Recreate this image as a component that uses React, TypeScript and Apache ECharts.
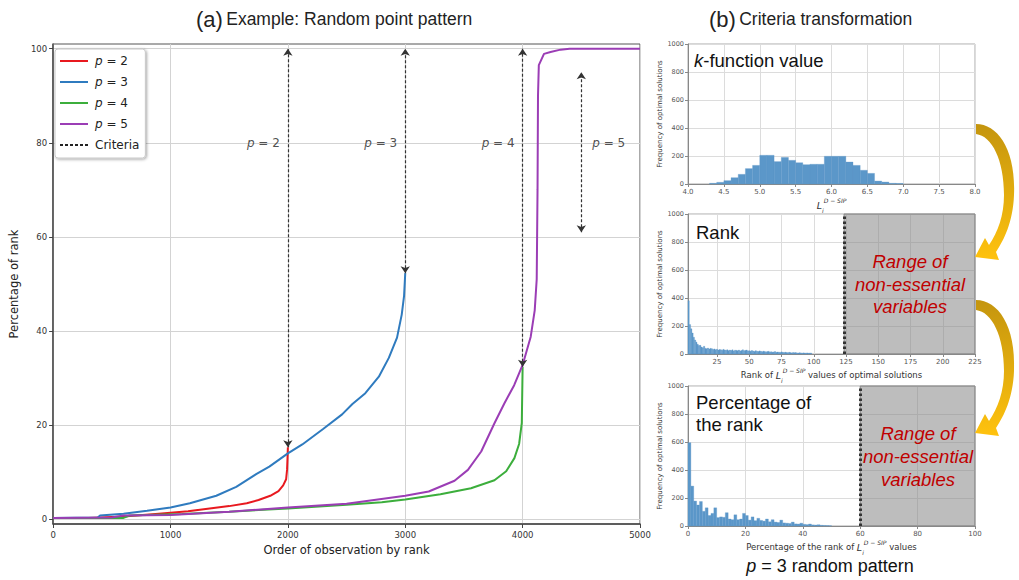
import React, { useEffect, useRef } from 'react';
import * as echarts from 'echarts';

// ---------- Panel (a) data: [order of observation, percentage of rank] ----------
const p2Points = [[0, 0.3], [300, 0.3], [600, 0.6], [900, 1.2], [1150, 1.7], [1300, 2.2], [1500, 2.8], [1650, 3.4], [1750, 4.1], [1850, 5.0], [1920, 6.0], [1960, 7.2], [1985, 8.5], [1993, 10.5], [1997, 13], [2000, 15.3]];
const p3Points = [[0, 0.3], [380, 0.4], [400, 0.8], [600, 1.2], [800, 1.8], [1000, 2.5], [1165, 3.4], [1390, 5.0], [1560, 6.9], [1730, 9.6], [1842, 11.2], [2000, 14.0], [2123, 15.9], [2300, 19.2], [2462, 22.3], [2550, 24.5], [2660, 26.8], [2775, 30.3], [2860, 34.3], [2930, 38.6], [2970, 43.5], [2990, 47.5], [3000, 52.3]];
const p4Points = [[0, 0.3], [600, 0.3], [650, 0.8], [1100, 1.1], [1500, 1.6], [2000, 2.3], [2500, 3.1], [2800, 3.6], [3000, 4.2], [3300, 5.3], [3560, 6.6], [3760, 8.3], [3860, 10.2], [3930, 13], [3970, 16], [3993, 20.5], [4000, 32.4]];
const p5Points = [[0, 0.3], [500, 0.4], [600, 0.8], [1000, 0.9], [1500, 1.6], [2000, 2.5], [2500, 3.3], [3000, 5.0], [3200, 5.9], [3420, 8.2], [3534, 10.5], [3647, 14.4], [3760, 20.4], [3844, 24.6], [3928, 28.5], [4000, 32.8], [4069, 38.8], [4103, 44.4], [4120, 51], [4127, 70], [4131, 90], [4138, 96.5], [4182, 98.9], [4238, 99.3], [4323, 99.8], [4400, 100], [5000, 100]];

const seriesNames = ['p = 2', 'p = 3', 'p = 4', 'p = 5'];
const seriesColors = ['#e8191f', '#2f7bbf', '#3cae3c', '#9b3db5'];
const seriesPoints = [p2Points, p3Points, p4Points, p5Points];

// criteria arrows: [x, yFrom, yTo]
const criteriaArrows = [[2000, 15.3, 100], [3000, 52.3, 100], [4000, 32.4, 100], [4500, 61, 95]];
// criteria labels: [x, y, p, side]
const criteriaLabels = [[2000, 80, '2', 'left'], [3000, 80, '3', 'left'], [4000, 80, '4', 'left'], [4500, 80, '5', 'right']];

const mainYTicks = [0, 20, 40, 60, 80, 100];

// ---------- Panel (b) histograms ----------
const kBinStart = 4.3;
const kBinWidth = 0.1;
const kCounts = [5, 12, 24, 45, 69, 110, 133, 205, 205, 160, 190, 169, 152, 138, 141, 141, 198, 198, 198, 157, 133, 98, 76, 21, 14, 5, 4];

const rankBinStart = 2.5;
const rankBinWidth = 1;
const rankCounts = [380, 210, 180, 150, 120, 100, 85, 70, 60, 62, 50, 45, 55, 40, 38, 42, 35, 40, 38, 33, 36, 30, 34, 28, 32, 30, 27, 33, 29, 26, 30, 24, 28, 25, 30, 22, 27, 26, 24, 28, 22, 25, 30, 23, 26, 28, 22, 24, 20, 25, 22, 18, 24, 20, 17, 22, 19, 16, 20, 18, 15, 17, 19, 14, 16, 13, 15, 17, 12, 14, 13, 11, 15, 12, 10, 13, 11, 9, 12, 10, 8, 11, 9, 10, 8, 7, 9, 8, 6, 8, 7, 6, 8, 5, 7, 6];
const rankCriterion = 123.5;
const rankTicks = [25, 50, 75, 100, 125, 150, 175, 200, 225];

const pctBinStart = 0;
const pctBinWidth = 1;
const pctCounts = [595, 285, 178, 150, 175, 105, 130, 75, 90, 130, 60, 65, 62, 95, 50, 45, 80, 45, 50, 90, 75, 42, 65, 38, 55, 40, 35, 50, 30, 45, 28, 25, 42, 22, 20, 18, 28, 15, 14, 20, 12, 10, 14, 8, 7, 9, 5, 4, 3, 2];
const pctCriterion = 60;

const FONT_MPL = "'DejaVu Sans', sans-serif";
const FONT_ARIAL = "'Liberation Sans', Arial, sans-serif";
const BAR_COLOR = '#5b97c9';

const arrowPath = 'M 976 124 C 998 124 1016 150 1014 195 C 1013 222 1004 240 996 252 L 999 260 L 975 257 L 985 238 L 989 245 C 998 232 1004 215 1004 195 C 1004 160 992 136 976 134 Z';
let arrowRegistered = false;
function registerArrow() {
  if (arrowRegistered) return;
  echarts.graphic.registerShape('goldArrow', echarts.graphic.extendPath(arrowPath, {}));
  arrowRegistered = true;
}

function binsToData(start: number, width: number, counts: number[]) {
  return counts.map((c, i) => [start + i * width, start + (i + 1) * width, c]);
}

function histRender(params: any, api: any) {
  const p0 = api.coord([api.value(0), api.value(2)]);
  const p1 = api.coord([api.value(1), 0]);
  return {
    type: 'rect',
    shape: { x: p0[0], y: p0[1], width: p1[0] - p0[0], height: p1[1] - p0[1] },
    style: { fill: BAR_COLOR, stroke: BAR_COLOR, lineWidth: 0.3 },
  };
}

const plain = (v: number) => String(v);

const lName = (pre: string, post: string) =>
  `${pre ? `{t|${pre}}` : ''}{L|L}{sub|i}{sup|D − SIP}${post ? `{t|${post}}` : ''}`;

const lRich = {
  t: { fontSize: 8.5, fontFamily: FONT_MPL, color: '#333', lineHeight: 16 },
  L: { fontSize: 9.5, fontFamily: FONT_MPL, fontStyle: 'italic', color: '#333', lineHeight: 16 },
  sub: { fontSize: 6, fontFamily: FONT_MPL, fontStyle: 'italic', color: '#333', verticalAlign: 'bottom', lineHeight: 8 },
  sup: { fontSize: 6, fontFamily: FONT_MPL, fontStyle: 'italic', color: '#333', verticalAlign: 'top', lineHeight: 8 },
};

function histAxes(gridIndex: number, xOpt: any, xName: string) {
  const { customValues, axisLabel, ...rest } = xOpt;
  const x = {
    type: 'value',
    gridIndex,
    ...rest,
    axisLine: { show: true, onZero: false, lineStyle: { color: '#888', width: 1 } },
    axisTick: { show: true, length: 3, lineStyle: { color: '#888' }, ...(customValues ? { customValues } : {}) },
    axisLabel: { fontSize: 7, color: '#555', fontFamily: FONT_MPL, margin: 4, formatter: plain, ...(customValues ? { customValues } : {}), ...(axisLabel || {}) },
    splitLine: { show: true, lineStyle: { color: '#dcdcdc', width: 1 } },
    name: xName,
    nameLocation: 'middle',
    nameGap: 13,
    nameTextStyle: { rich: lRich },
  };
  const y = {
    type: 'value',
    gridIndex,
    min: 0,
    max: 1000,
    interval: 200,
    axisLine: { show: true, lineStyle: { color: '#888', width: 1 } },
    axisTick: { show: true, length: 3, lineStyle: { color: '#888' } },
    axisLabel: { fontSize: 6.5, color: '#555', fontFamily: FONT_MPL, margin: 4, formatter: plain },
    splitLine: { show: true, lineStyle: { color: '#dcdcdc', width: 1 } },
    name: 'Frequency of optimal solutions',
    nameLocation: 'middle',
    nameGap: 24,
    nameTextStyle: { fontSize: 7, color: '#333', fontFamily: FONT_MPL },
  };
  return { x, y };
}

function buildOption() {
  const h1 = histAxes(1, { min: 4, max: 8, interval: 0.5, axisLabel: { formatter: (v: number) => v.toFixed(1) } }, lName('', ''));
  const h2 = histAxes(2, { min: rankBinStart, max: 225, customValues: rankTicks }, lName('Rank of ', ' values of optimal solutions'));
  const h3 = histAxes(3, { min: 0, max: 100, interval: 20 }, lName('Percentage of the rank of ', ' values'));

  const grayArea = (from: number, to: number) => ({
    silent: true,
    itemStyle: { color: 'rgba(135,135,135,0.55)', borderColor: '#888', borderWidth: 1 },
    data: [[{ xAxis: from }, { xAxis: to }]],
  });
  const dottedLine = (x: number) => ({
    silent: true,
    symbol: 'none',
    label: { show: false },
    lineStyle: { type: [2.5, 2.5], width: 3, color: '#333' },
    data: [{ xAxis: x }],
  });

  const lineSeries = seriesNames.map((name, i) => ({
    type: 'line',
    name,
    xAxisIndex: 0,
    yAxisIndex: 0,
    data: seriesPoints[i],
    symbol: 'none',
    showSymbol: false,
    lineStyle: { width: 2, color: seriesColors[i] },
    itemStyle: { color: seriesColors[i] },
    z: 3,
  }));

  return {
    animation: false,
    backgroundColor: '#fff',
    legend: {
      data: [...seriesNames, 'Criteria'],
      orient: 'vertical',
      left: 55,
      top: 49,
      padding: [5, 6, 6, 4],
      itemWidth: 28,
      itemHeight: 14,
      itemGap: 7,
      selectedMode: false,
      backgroundColor: '#fff',
      borderColor: '#c8c8c8',
      borderWidth: 1,
      borderRadius: 3,
      shadowBlur: 3,
      shadowColor: 'rgba(0,0,0,0.35)',
      shadowOffsetX: 1,
      shadowOffsetY: 1,
      itemStyle: { opacity: 0 },
      formatter: (n: string) => (n === 'Criteria' ? n : `{i|p}${n.slice(1)}`),
      textStyle: {
        fontSize: 12,
        fontFamily: FONT_MPL,
        color: '#222',
        height: 14,
        lineHeight: 14,
        padding: [0, 0, 0, 2],
        rich: { i: { fontStyle: 'italic', fontSize: 12, fontFamily: FONT_MPL, color: '#222', lineHeight: 14 } },
      },
      z: 10,
    },
    grid: [
      { left: 49, top: 44, width: 591, height: 480, show: true, borderColor: '#555', borderWidth: 1, backgroundColor: 'transparent' },
      { left: 688, top: 44, width: 287, height: 140, show: true, borderColor: '#aaa', borderWidth: 1, backgroundColor: 'transparent' },
      { left: 688, top: 214, width: 287, height: 140, show: true, borderColor: '#aaa', borderWidth: 1, backgroundColor: 'transparent' },
      { left: 688, top: 386, width: 287, height: 140, show: true, borderColor: '#aaa', borderWidth: 1, backgroundColor: 'transparent' },
    ],
    xAxis: [
      {
        type: 'value',
        gridIndex: 0,
        min: 0,
        max: 5000,
        interval: 1000,
        axisLine: { show: true, onZero: false, lineStyle: { color: '#444', width: 1.5 } },
        axisTick: { show: true, length: 4, lineStyle: { color: '#444' } },
        axisLabel: { fontSize: 8.5, color: '#333', fontFamily: FONT_MPL, margin: 6, formatter: plain },
        splitLine: { show: true, lineStyle: { color: '#d3d3d3', width: 1 } },
        name: 'Order of observation by rank',
        nameLocation: 'middle',
        nameGap: 18,
        nameTextStyle: { fontSize: 11.5, color: '#222', fontFamily: FONT_MPL },
      },
      h1.x,
      h2.x,
      h3.x,
    ],
    yAxis: [
      {
        type: 'value',
        gridIndex: 0,
        min: -1,
        max: 101,
        axisLine: { show: true, onZero: false, lineStyle: { color: '#444', width: 1.5 } },
        axisTick: { show: true, length: 4, lineStyle: { color: '#444' }, customValues: mainYTicks },
        axisLabel: { fontSize: 8.5, color: '#333', fontFamily: FONT_MPL, margin: 6, customValues: mainYTicks, formatter: plain },
        splitLine: { show: true, lineStyle: { color: '#d3d3d3', width: 1 } },
        name: 'Percentage of rank',
        nameLocation: 'middle',
        nameGap: 27,
        nameTextStyle: { fontSize: 11.5, color: '#222', fontFamily: FONT_MPL },
      },
      h1.y,
      h2.y,
      h3.y,
    ],
    series: [
      ...lineSeries,
      {
        type: 'line',
        name: 'Criteria',
        xAxisIndex: 0,
        yAxisIndex: 0,
        data: [],
        symbol: 'none',
        lineStyle: { type: [3, 2], width: 1.2, color: '#222' },
        itemStyle: { color: '#222' },
        z: 4,
        markLine: {
          silent: true,
          symbol: ['arrow', 'arrow'],
          symbolSize: 7,
          label: { show: false },
          lineStyle: { type: [3, 2], width: 1.2, color: '#333' },
          data: criteriaArrows.map(([x, y0, y1]) => [{ coord: [x, y0] }, { coord: [x, y1] }]),
        },
      },
      {
        type: 'scatter',
        name: 'criteriaLabels',
        xAxisIndex: 0,
        yAxisIndex: 0,
        symbolSize: 0,
        silent: true,
        data: criteriaLabels.map(([x, y, p, side]) => ({
          name: p,
          value: [x, y],
          label: { position: side, distance: side === 'left' ? 8 : 11 },
        })),
        label: {
          show: true,
          fontSize: 12,
          fontFamily: FONT_MPL,
          color: '#222',
          formatter: (params: any) => `{i|p} = ${params.name}`,
          rich: { i: { fontStyle: 'italic', fontSize: 12, fontFamily: FONT_MPL, color: '#222' } },
        },
      },
      {
        type: 'custom',
        name: 'kHist',
        xAxisIndex: 1,
        yAxisIndex: 1,
        renderItem: histRender,
        encode: { x: [0, 1], y: 2 },
        data: binsToData(kBinStart, kBinWidth, kCounts),
        silent: true,
      },
      {
        type: 'custom',
        name: 'rankHist',
        xAxisIndex: 2,
        yAxisIndex: 2,
        renderItem: histRender,
        encode: { x: [0, 1], y: 2 },
        data: binsToData(rankBinStart, rankBinWidth, rankCounts),
        silent: true,
        markArea: grayArea(rankCriterion, 225),
        markLine: dottedLine(rankCriterion),
      },
      {
        type: 'custom',
        name: 'pctHist',
        xAxisIndex: 3,
        yAxisIndex: 3,
        renderItem: histRender,
        encode: { x: [0, 1], y: 2 },
        data: binsToData(pctBinStart, pctBinWidth, pctCounts),
        silent: true,
        markArea: grayArea(pctCriterion, 100),
        markLine: dottedLine(pctCriterion),
      },
    ],
    graphic: [
      {
        type: 'text',
        x: 196,
        y: 19,
        style: {
          text: '{a|(a)} {b|Example: Random point pattern}',
          verticalAlign: 'middle',
          rich: {
            a: { fontSize: 22, fontFamily: FONT_ARIAL, fill: '#222' },
            b: { fontSize: 17.5, fontFamily: FONT_ARIAL, fill: '#222' },
          },
        },
      },
      {
        type: 'text',
        x: 709,
        y: 19,
        style: {
          text: '{a|(b)} {b|Criteria transformation}',
          verticalAlign: 'middle',
          rich: {
            a: { fontSize: 22, fontFamily: FONT_ARIAL, fill: '#222' },
            b: { fontSize: 17.5, fontFamily: FONT_ARIAL, fill: '#222' },
          },
        },
      },
      {
        type: 'text',
        x: 694,
        y: 60,
        z: 20,
        style: {
          text: '{i|k}-function value',
          fontSize: 18.5,
          fontFamily: FONT_ARIAL,
          fill: '#111',
          verticalAlign: 'middle',
          rich: { i: { fontStyle: 'italic', fontSize: 18.5, fontFamily: FONT_ARIAL, fill: '#111' } },
        },
      },
      {
        type: 'text',
        x: 696,
        y: 232,
        z: 20,
        style: { text: 'Rank', fontSize: 18.5, fontFamily: FONT_ARIAL, fill: '#111', verticalAlign: 'middle' },
      },
      {
        type: 'text',
        x: 696,
        y: 391,
        z: 20,
        style: { text: 'Percentage of\nthe rank', fontSize: 18.5, lineHeight: 22, fontFamily: FONT_ARIAL, fill: '#111', verticalAlign: 'top' },
      },
      {
        type: 'text',
        x: 910,
        y: 284,
        z: 20,
        style: {
          text: 'Range of\nnon-essential\nvariables',
          fontSize: 18.5,
          lineHeight: 22.5,
          fontStyle: 'italic',
          fontFamily: FONT_ARIAL,
          fill: '#c00000',
          align: 'center',
          verticalAlign: 'middle',
        },
      },
      {
        type: 'text',
        x: 918,
        y: 456,
        z: 20,
        style: {
          text: 'Range of\nnon-essential\nvariables',
          fontSize: 18.5,
          lineHeight: 23,
          fontStyle: 'italic',
          fontFamily: FONT_ARIAL,
          fill: '#c00000',
          align: 'center',
          verticalAlign: 'middle',
        },
      },
      {
        type: 'text',
        x: 830,
        y: 566,
        style: {
          text: '{i|p} = 3 random pattern',
          fontSize: 18,
          fontFamily: FONT_ARIAL,
          fill: '#111',
          align: 'center',
          verticalAlign: 'middle',
          rich: { i: { fontStyle: 'italic', fontSize: 18, fontFamily: FONT_ARIAL, fill: '#111' } },
        },
      },
      {
        type: 'goldArrow',
        x: 0,
        y: 0,
        z: 30,
        style: {
          fill: new echarts.graphic.LinearGradient(0, 0, 0, 1, [
            { offset: 0, color: '#c4950e' },
            { offset: 1, color: '#ffc20e' },
          ]),
        },
      },
      {
        type: 'goldArrow',
        x: 0,
        y: 176,
        z: 30,
        style: {
          fill: new echarts.graphic.LinearGradient(0, 0, 0, 1, [
            { offset: 0, color: '#c4950e' },
            { offset: 1, color: '#ffc20e' },
          ]),
        },
      },
    ],
  };
}

export default function App() {
  const ref = useRef<HTMLDivElement>(null);
  useEffect(() => {
    registerArrow();
    const chart = echarts.init(ref.current as HTMLDivElement, null, { renderer: 'svg' });
    chart.setOption(buildOption() as any);
    return () => chart.dispose();
  }, []);
  return (
    <div
      ref={ref}
      style={{ position: 'fixed', left: 0, top: 0, width: 1019, height: 580, background: '#fff' }}
    />
  );
}
